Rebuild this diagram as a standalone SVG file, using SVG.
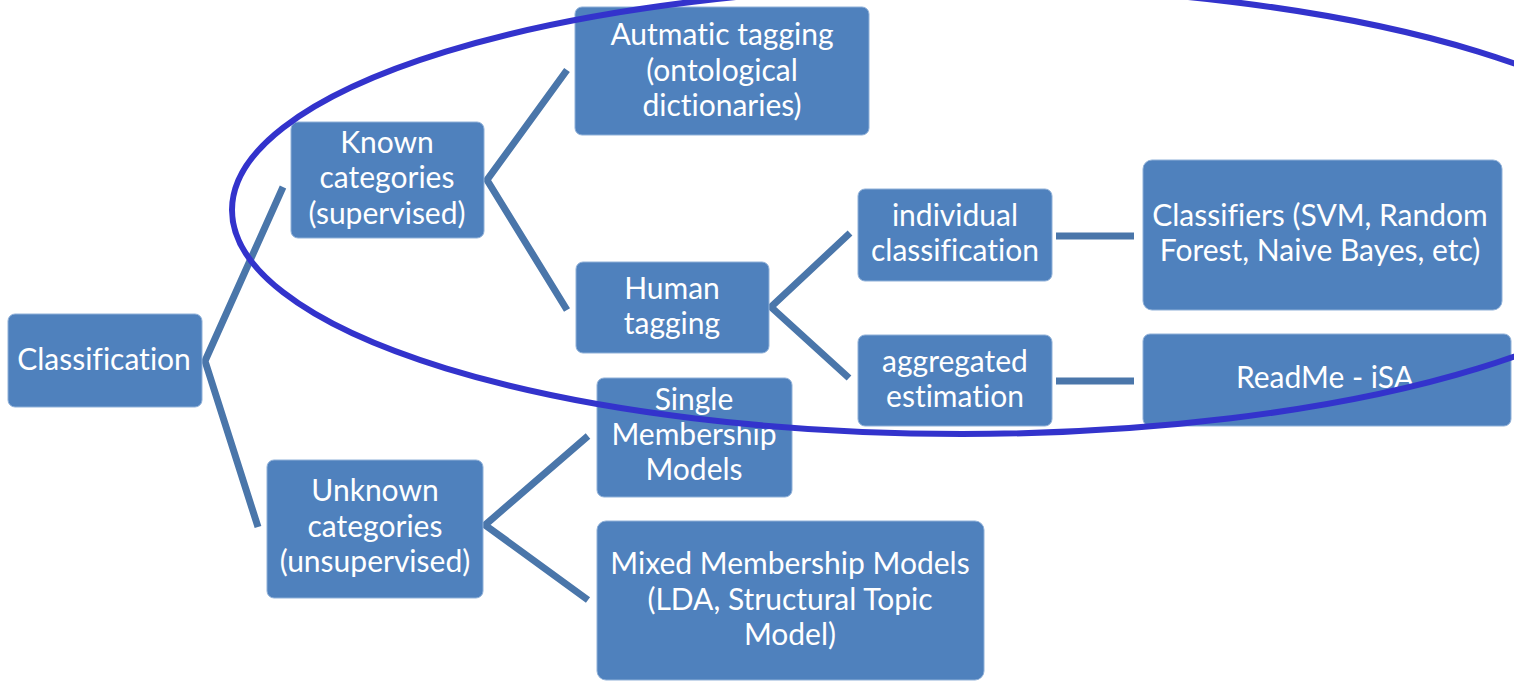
<svg xmlns="http://www.w3.org/2000/svg" width="1514" height="682" viewBox="0 0 1514 682">
<style>
.box{fill:#4f81bd;stroke:#8fb0d8;stroke-width:1}
.t{font-family:Lato,"Liberation Sans",sans-serif;font-size:30px;fill:#ffffff;text-anchor:middle;font-variant-ligatures:none}
.c{fill:none;stroke:#4a76aa;stroke-width:7;stroke-linejoin:miter;stroke-linecap:butt}
</style>
<rect width="1514" height="682" fill="#ffffff"/>
<g id="connectors">
<polyline class="c" points="283,187 205,361 258,527"/>
<polyline class="c" points="567,70 487,180 567,310"/>
<polyline class="c" points="850,233 771,307 849,378"/>
<line class="c" x1="1056" y1="236" x2="1134" y2="236"/>
<line class="c" x1="1056" y1="381" x2="1134" y2="381"/>
<polyline class="c" points="588,436 485,525 588,600"/>
</g>
<g id="n-classification"><rect class="box" x="8" y="314" width="194" height="93" rx="7"/><text class="t" x="104" y="370">Classification</text></g>
<g id="n-known"><rect class="box" x="291" y="122" width="193" height="116" rx="7"/><text class="t" x="387" y="153">Known</text><text class="t" x="387" y="188">categories</text><text class="t" x="387" y="224">(supervised)</text></g>
<g id="n-unknown"><rect class="box" x="267" y="460" width="216" height="138" rx="7"/><text class="t" x="375" y="501">Unknown</text><text class="t" x="375" y="537">categories</text><text class="t" x="375" y="572">(unsupervised)</text></g>
<g id="n-automatic"><rect class="box" x="575" y="7" width="294" height="128" rx="7"/><text class="t" x="722" y="45">Autmatic tagging</text><text class="t" x="722" y="81">(ontological</text><text class="t" x="722" y="116">dictionaries)</text></g>
<g id="n-human"><rect class="box" x="576" y="262" width="193" height="91" rx="7"/><text class="t" x="672" y="299">Human</text><text class="t" x="672" y="334">tagging</text></g>
<g id="n-individual"><rect class="box" x="858" y="189" width="194" height="92" rx="7"/><text class="t" x="955" y="226">individual</text><text class="t" x="955" y="261">classification</text></g>
<g id="n-aggregated"><rect class="box" x="858" y="335" width="194" height="91" rx="7"/><text class="t" x="955" y="372">aggregated</text><text class="t" x="955" y="407">estimation</text></g>
<g id="n-classifiers"><rect class="box" x="1143" y="160" width="359" height="150" rx="9"/><text class="t" x="1320" y="226">Classifiers (SVM, Random</text><text class="t" x="1320" y="261">Forest, Naive Bayes, etc)</text></g>
<g id="n-readme"><rect class="box" x="1143" y="334" width="368" height="92" rx="7"/><text class="t" x="1325" y="388">ReadMe - iSA</text></g>
<g id="n-single"><rect class="box" x="597" y="378" width="195" height="119" rx="7"/><text class="t" x="694" y="410">Single</text><text class="t" x="694" y="445">Membership</text><text class="t" x="694" y="480">Models</text></g>
<g id="n-mixed"><rect class="box" x="597" y="521" width="387" height="159" rx="9"/><text class="t" x="790" y="574">Mixed Membership Models</text><text class="t" x="790" y="610">(LDA, Structural Topic</text><text class="t" x="790" y="645">Model)</text></g>
<g id="highlight"><ellipse cx="962" cy="210" rx="730" ry="224" fill="none" stroke="#3333cc" stroke-width="6"/></g>
</svg>
